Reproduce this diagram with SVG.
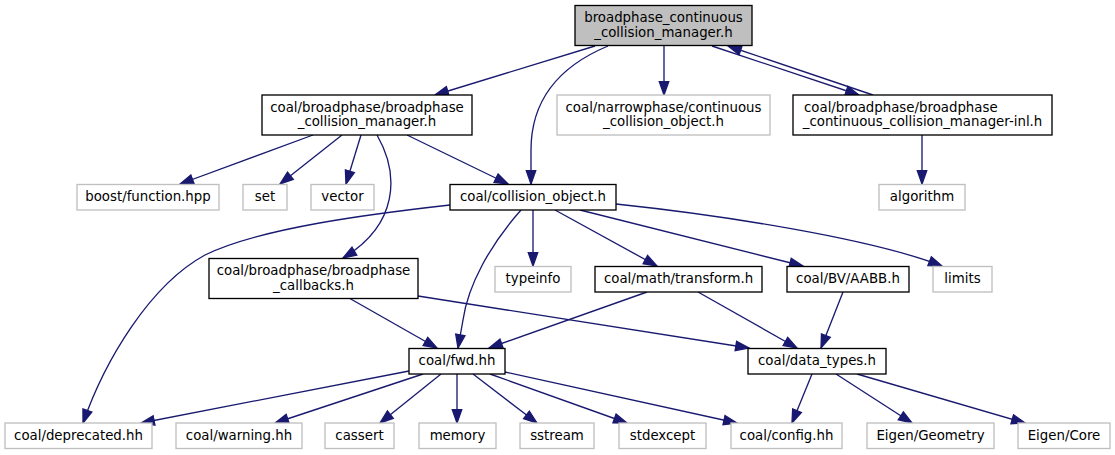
<svg xmlns="http://www.w3.org/2000/svg" width="1115" height="455" viewBox="0 0 1115 455">
<style>
  text { font-family: "DejaVu Sans", "Liberation Sans", sans-serif; font-size: 13.33px; fill: #000; text-anchor: middle; }
  .doc rect { fill: #fff; stroke: #000; stroke-width: 1.33; }
  .ext rect { fill: #fff; stroke: #bfbfbf; stroke-width: 1.33; }
  .root rect { fill: #bfbfbf; stroke: #000; stroke-width: 1.33; }
  #edges path { fill: none; stroke: #191970; stroke-width: 1.33; marker-end: url(#arr); }
</style>
<defs>
  <marker id="arr" markerUnits="userSpaceOnUse" markerWidth="16" markerHeight="12" viewBox="-1 -6 16 12" refX="13.3" refY="0" orient="auto">
    <path d="M0,-4.7 L13.3,0 L0,4.7 Z" fill="#191970" stroke="#191970" stroke-width="1.33"/>
  </marker>
</defs>
<rect width="1115" height="455" fill="#fff"/>
<g id="edges">
  <path d="M595,46 L435,95"/>
  <path d="M608,46 C560,66 531,100 531,150 L531,184"/>
  <path d="M664,46 L664,95"/>
  <path d="M712,46 L859,95"/>
  <path d="M873,95 L728,46"/>
  <path d="M313,135 L180,184"/>
  <path d="M342,135 L280,184"/>
  <path d="M361,135 L346,184"/>
  <path d="M407,135 L508,184"/>
  <path d="M377,135 C400,175 398,225 343,258"/>
  <path d="M922,135 L922,184"/>
  <path d="M450,205 C370,214 260,228 205,255 C150,285 105,360 83,423"/>
  <path d="M521,210 C490,245 468,285 463,320 L458,348"/>
  <path d="M533,210 L533,266"/>
  <path d="M555,210 L657,266"/>
  <path d="M580,210 L803,266"/>
  <path d="M616,204 C720,215 870,238 942,266"/>
  <path d="M349,298 L437,348"/>
  <path d="M418,296 L749,348"/>
  <path d="M647,292 L489,348"/>
  <path d="M698,292 L797,348"/>
  <path d="M843,292 L821,348"/>
  <path d="M409,371 L141,423"/>
  <path d="M423,374 L275,423"/>
  <path d="M441,374 L380,423"/>
  <path d="M457,374 L457,423"/>
  <path d="M473,374 L537,423"/>
  <path d="M490,374 L627,423"/>
  <path d="M505,372 L737,423"/>
  <path d="M812,374 L792,423"/>
  <path d="M836,374 L912,423"/>
  <path d="M857,374 L1025,423"/>
</g>
<g id="node1" class="root"><rect x="575" y="5.5" width="177" height="40"/><text x="663.5" y="22">broadphase_continuous</text><text x="663.5" y="36.7">_collision_manager.h</text></g>
<g id="node2" class="doc"><rect x="262" y="95" width="210" height="40"/><text x="367" y="111.5">coal/broadphase/broadphase</text><text x="367" y="126.2">_collision_manager.h</text></g>
<g id="node3" class="ext"><rect x="557" y="95" width="213" height="40"/><text x="663.5" y="111.5">coal/narrowphase/continuous</text><text x="663.5" y="126.2">_collision_object.h</text></g>
<g id="node4" class="doc"><rect x="793" y="95" width="259" height="40"/><text x="804" y="111.5" style="text-anchor:start">coal/broadphase/broadphase</text><text x="922.5" y="126.2">_continuous_collision_manager-inl.h</text></g>
<g id="node5" class="ext"><rect x="77" y="184.5" width="142" height="25.5"/><text x="148" y="201">boost/function.hpp</text></g>
<g id="node6" class="ext"><rect x="243" y="184.5" width="44" height="25.5"/><text x="265" y="201">set</text></g>
<g id="node7" class="ext"><rect x="311" y="184.5" width="63" height="25.5"/><text x="342.5" y="201">vector</text></g>
<g id="node8" class="doc"><rect x="450" y="184.5" width="166" height="25.5"/><text x="533" y="201">coal/collision_object.h</text></g>
<g id="node9" class="ext"><rect x="879" y="184.5" width="86" height="25.5"/><text x="922" y="201">algorithm</text></g>
<g id="node10" class="doc"><rect x="209" y="258.5" width="209" height="40"/><text x="313.5" y="275">coal/broadphase/broadphase</text><text x="313.5" y="289.7">_callbacks.h</text></g>
<g id="node11" class="ext"><rect x="495" y="266.5" width="76" height="25.5"/><text x="533" y="283">typeinfo</text></g>
<g id="node12" class="doc"><rect x="595" y="266.5" width="167" height="25.5"/><text x="678.5" y="283">coal/math/transform.h</text></g>
<g id="node13" class="doc"><rect x="787" y="266.5" width="122" height="25.5"/><text x="848" y="283">coal/BV/AABB.h</text></g>
<g id="node14" class="ext"><rect x="933" y="266.5" width="59" height="25.5"/><text x="962.5" y="283">limits</text></g>
<g id="node15" class="doc"><rect x="409" y="348.5" width="96" height="25.5"/><text x="457" y="365">coal/fwd.hh</text></g>
<g id="node16" class="doc"><rect x="748" y="348.5" width="138" height="25.5"/><text x="817" y="365">coal/data_types.h</text></g>
<g id="node17" class="ext"><rect x="5" y="423" width="147" height="25.5"/><text x="78.5" y="440">coal/deprecated.hh</text></g>
<g id="node18" class="ext"><rect x="176" y="423" width="126" height="25.5"/><text x="239" y="440">coal/warning.hh</text></g>
<g id="node19" class="ext"><rect x="325" y="423" width="69" height="25.5"/><text x="359.5" y="440">cassert</text></g>
<g id="node20" class="ext"><rect x="419" y="423" width="77" height="25.5"/><text x="457.5" y="440">memory</text></g>
<g id="node21" class="ext"><rect x="520" y="423" width="74" height="25.5"/><text x="557" y="440">sstream</text></g>
<g id="node22" class="ext"><rect x="619" y="423" width="87" height="25.5"/><text x="662.5" y="440">stdexcept</text></g>
<g id="node23" class="ext"><rect x="731" y="423" width="111" height="25.5"/><text x="786.5" y="440">coal/config.hh</text></g>
<g id="node24" class="ext"><rect x="867" y="423" width="127" height="25.5"/><text x="930.5" y="440">Eigen/Geometry</text></g>
<g id="node25" class="ext"><rect x="1018" y="423" width="92" height="25.5"/><text x="1064" y="440">Eigen/Core</text></g>
</svg>
